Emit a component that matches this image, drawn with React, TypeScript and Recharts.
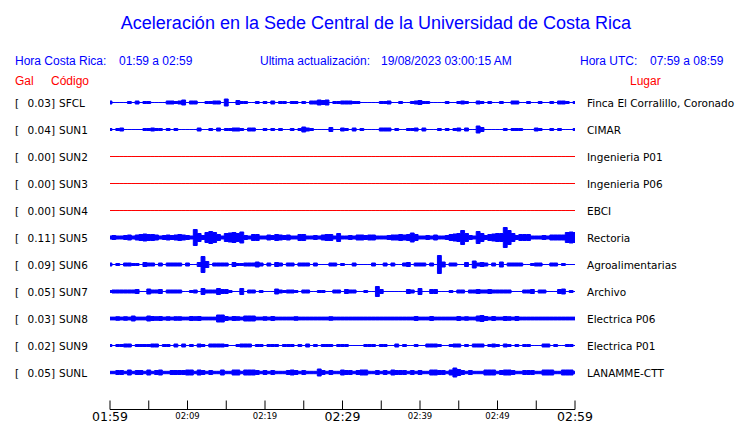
import { AreaChart, Area, XAxis, YAxis } from 'recharts'

const codes = ['SFCL', 'SUN1', 'SUN2', 'SUN3', 'SUN4', 'SUN5', 'SUN6', 'SUN7', 'SUN8', 'SUN9', 'SUNL']
const gal = [0.03, 0.04, 0.0, 0.0, 0.0, 0.11, 0.09, 0.05, 0.03, 0.02, 0.05]
const places = [
  'Finca El Corralillo, Coronado',
  'CIMAR',
  'Ingenieria P01',
  'Ingenieria P06',
  'EBCI',
  'Rectoria',
  'Agroalimentarias',
  'Archivo',
  'Electrica P06',
  'Electrica P01',
  'LANAMME-CTT',
]

// peak amplitude every 30 s from 01:59 to 02:59 (121 samples)
const sfcl = [
  1.5, 0, 0, 0, 0, 1, 0, 1.5, 0, 1,
  1, 0, 0, 0, 0, 1.5, 1.5, 1, 1.5, 2.5,
  0, 1.5, 1.5, 0, 0, 1, 1, 1.5, 1.5, 0,
  3.5, 0, 0, 2, 1, 1, 0, 0, 1, 0,
  1, 0, 1.5, 0, 1, 1, 0, 1, 1, 0,
  1, 0, 1.5, 1.5, 2.5, 2, 2.5, 0, 1, 1,
  1.5, 1.5, 1.5, 1, 1, 0, 0, 0, 0, 0,
  1, 1, 1.5, 0, 0, 1, 0, 0, 1, 1.5,
  2, 1, 1, 0, 0, 0, 0, 1, 0, 0,
  1, 1.5, 1, 0, 0, 1.5, 1, 0, 1, 0,
  0, 1, 0, 0, 1.5, 1.5, 0, 0, 1, 0,
  0, 1, 0, 0, 1, 0, 1.5, 1.5, 1, 0,
  1,
]
const sun1 = [
  1, 0, 1, 1.5, 0, 0, 0, 0, 0, 1,
  1, 1.5, 1, 1, 0, 1, 0, 1, 0, 0,
  0, 0, 0, 1.5, 0, 0, 1, 0, 1.5, 0,
  1, 1, 1.5, 1.5, 1, 0, 1.5, 1.5, 0, 0,
  1, 0, 1, 0, 1, 0, 0, 1, 0, 1,
  2.5, 1.5, 1, 0, 0, 0, 0, 2, 0, 0,
  1.5, 1, 0, 1.5, 0, 1, 0, 0, 0, 0,
  1.5, 1.5, 1.5, 0, 1, 0, 0, 1, 1, 1.5,
  0, 1.5, 0, 0, 0, 1, 0, 1, 0, 1,
  1.5, 0, 1.5, 0, 0, 3.5, 2, 0, 0, 0,
  0, 0, 1, 0, 1, 1, 1, 0, 0, 0,
  1.5, 1, 0, 0, 1, 0, 1, 0, 0, 0,
  1,
]
const sun5 = [
  1.5, 2, 1.5, 1.5, 2, 2.5, 1.5, 2.5, 3, 3.5,
  3, 3, 2.5, 1.5, 2, 2.5, 2, 2.5, 3, 2.5,
  2, 1.5, 8, 4, 2, 5, 6, 5, 3, 1.5,
  4, 4.5, 5, 4, 5.5, 2, 1.5, 3, 3, 1.5,
  1.5, 2.5, 2, 3, 2.5, 2, 2.5, 1.5, 1.5, 3,
  3, 1.5, 1.5, 2, 1.5, 2.5, 3, 3, 1.5, 4,
  1.5, 1.5, 2, 1.5, 2.5, 2.5, 2, 2.5, 2.5, 1.5,
  1.5, 1.5, 2, 2.5, 2.5, 3, 2.5, 3, 4.5, 3,
  1.5, 1.5, 2, 1.5, 2.5, 1.5, 1.5, 2, 3, 3.5,
  4, 7, 4, 2, 1.5, 6, 4, 2, 3, 3.5,
  4, 4, 10, 7, 4, 2, 3, 3, 3, 1.5,
  1.5, 1.5, 2, 1.5, 2.5, 2.5, 2.5, 2.5, 5, 5.5,
  5,
]
const sun6 = [
  1.5, 0, 1, 0, 1.5, 1.5, 1, 1, 0, 2,
  1.5, 1.5, 0, 1.5, 0, 1.5, 1.5, 1.5, 1.5, 0,
  1.5, 0, 0, 2, 8, 3, 0, 1.5, 1.5, 1.5,
  1.5, 0, 2, 1, 1, 1.5, 1.5, 1.5, 2.5, 1.5,
  0, 1.5, 0, 2, 1.5, 0, 1.5, 1.5, 0, 1.5,
  1.5, 1.5, 0, 1.5, 0, 0, 0, 1.5, 1.5, 0,
  1, 0, 0, 1.5, 0, 0, 0, 0, 1.5, 0,
  0, 1.5, 0, 1.5, 0, 0, 1.5, 2, 0, 1.5,
  1.5, 1.5, 0, 1.5, 0, 9, 2.5, 0, 1.5, 1.5,
  0, 0, 2, 0, 3.5, 1.5, 2, 1.5, 0, 1.5,
  0, 2.5, 0, 1.5, 1.5, 1.5, 1.5, 0, 0, 1,
  1.5, 1.5, 0, 0, 1.5, 1.5, 0, 1, 0, 0,
  0,
]
const sun7 = [
  1, 1.5, 1.5, 1.5, 1.5, 1.5, 1.5, 2, 0, 0,
  2.5, 1.5, 1.5, 2, 0, 1.5, 1.5, 1.5, 1.5, 0,
  0, 1, 1.5, 0, 3, 1.5, 1.5, 1.5, 3, 2,
  2, 1, 0, 0, 3, 0, 1.5, 1.5, 0, 1,
  0, 0, 0, 2.5, 1.5, 1, 1.5, 1.5, 1, 0,
  1.5, 1.5, 0, 0, 1, 1, 0, 0, 1.5, 1.5,
  0, 2, 1.5, 1.5, 0, 0, 1, 0, 0, 5,
  2, 0, 0, 0, 0, 0, 0, 2, 1.5, 0,
  3, 0, 0, 2, 2, 0, 0, 0, 1, 0,
  1.5, 1.5, 0, 1.5, 1.5, 2, 1.5, 1.5, 2, 1.5,
  1.5, 1.5, 1.5, 1.5, 0, 0, 0, 1.5, 1.5, 2,
  0, 1.5, 1.5, 0, 0, 0, 2, 2.5, 0, 1,
  0,
]
const sun8 = [
  1.4, 1.4, 1.8, 1.4, 1.8, 1.4, 2.5, 1.4, 1.4, 1.4,
  2.5, 2, 1.8, 2, 1.4, 1.8, 1.4, 1.8, 1.8, 1.4,
  1.4, 2, 1.8, 2, 1.4, 1.4, 1.4, 1.4, 3.5, 3.5,
  2, 1.4, 2, 1.8, 1.4, 2.5, 2.5, 2.5, 1.4, 1.4,
  1.8, 1.4, 2, 1.4, 1.4, 1.4, 1.4, 1.4, 1.8, 1.4,
  1.4, 1.4, 1.4, 1.4, 1.4, 1.4, 1.4, 1.8, 1.4, 1.4,
  1.4, 1.4, 1.4, 1.4, 1.4, 1.4, 1.4, 1.4, 1.4, 1.4,
  1.4, 1.4, 1.4, 1.4, 1.4, 1.4, 1.4, 1.4, 1.4, 2,
  1.4, 1.4, 1.4, 2, 1.4, 1.4, 1.4, 1.4, 1.4, 1.4,
  2, 1.4, 1.8, 1.4, 1.4, 2.5, 3, 2, 1.4, 2,
  1.4, 1.4, 2, 1.8, 1.4, 2, 1.4, 1.4, 1.4, 1.4,
  1.4, 1.4, 1.4, 1.4, 1.4, 1.4, 1.4, 1.4, 1.4, 1.4,
  1.4,
]
const sun9 = [
  1, 0, 1, 1, 1.5, 1.5, 0, 1, 1, 1,
  1, 1.5, 1.5, 0, 1, 1, 0, 1.5, 0, 1.5,
  0, 1, 0, 1.5, 1, 0, 1.5, 1.5, 1.5, 1.5,
  1, 0, 0, 1, 1.5, 1.5, 1.5, 0, 1, 1,
  0, 1, 1, 1, 0, 1, 1, 1, 0, 1,
  0, 1.5, 0, 1, 0, 1, 1, 1, 0, 1,
  1, 1, 0, 0, 0, 0, 1, 1, 1, 0,
  1, 1, 0, 0, 1.5, 0, 1, 0, 0, 1,
  0, 0, 1.5, 1.5, 1.5, 1, 0, 0, 1, 1.5,
  1.5, 0, 1, 0, 1.5, 1.5, 1.5, 0, 1, 1.5,
  1, 0, 1.5, 1, 0, 1, 0, 1, 1, 0,
  0, 0, 1.5, 1.5, 0, 1, 0, 0, 1, 1,
  0,
]
const sunl = [
  1.2, 1.2, 2, 2, 1.2, 2.5, 1.2, 2, 2, 1.2,
  2.5, 1.2, 2, 2.5, 1.2, 1.2, 2, 2, 2, 2,
  2.5, 2.5, 1.2, 2.5, 2, 1.2, 2, 1.2, 1.2, 2.5,
  1.2, 1.2, 2.5, 2.5, 1.2, 2.5, 2.5, 2.5, 2, 1.2,
  2, 1.2, 2, 1.2, 1.2, 1.2, 2, 2.5, 2, 1.2,
  2, 1.2, 1.2, 1.2, 3.5, 2, 1.2, 2, 1.2, 1.2,
  2.5, 2, 2, 1.2, 2, 2.5, 2.5, 1.2, 1.2, 2,
  1.2, 2, 1.2, 2.5, 2, 2, 2, 1.2, 2, 1.2,
  2, 1.2, 1.2, 2.5, 2.5, 2, 2, 1.2, 2.5, 4.5,
  3, 2, 1.2, 2, 1.2, 1.2, 1.2, 2.5, 2.5, 2.5,
  1.2, 2, 2.5, 2.5, 2, 1.2, 1.2, 2, 2, 2,
  1.2, 1.2, 2.5, 2.5, 2.5, 1.2, 1.2, 2.5, 2.5, 2.5,
  1.2,
]

const traces: Record<string, number[]> = {
  SFCL: sfcl,
  SUN1: sun1,
  SUN5: sun5,
  SUN6: sun6,
  SUN7: sun7,
  SUN8: sun8,
  SUN9: sun9,
  SUNL: sunl,
}

const tickMinutes = [0, 5, 10, 15, 20, 25, 30, 35, 40, 45, 50, 55, 60]
const tickLabels = ['01:59', '', '02:09', '', '02:19', '', '02:29', '', '02:39', '', '02:49', '', '02:59']
const bigLabels = ['01:59', '02:29', '02:59']

const TOP_ROW = 11.37 // y value of the first trace
const GAIN = 1 / 27

const data = sfcl.map((_, k) => {
  const row: Record<string, number | number[]> = { t: k / 2 }
  codes.forEach((code, i) => {
    const base = TOP_ROW - i
    const a = (traces[code]?.[k] ?? 0) * GAIN
    row[code] = [base - a, base + a]
  })
  return row
})

const BLUE = '#0000ff'
const RED = '#ff0000'
const SANS = '"Liberation Sans", Arial, sans-serif'
const DEJAVU = '"DejaVu Sans", sans-serif'

function TimeTick(props: any) {
  const { x, y, index } = props
  const label = tickLabels[index] ?? ''
  const big = bigLabels.includes(label)
  return (
    <g>
      <line x1={x} x2={x} y1={y - 9} y2={y} stroke="#000" strokeWidth={1} />
      {label && (
        <text
          x={x}
          y={big ? y + 11.5 : y + 9}
          textAnchor="middle"
          fontFamily={DEJAVU}
          fontSize={big ? 12.5 : 8.5}
          fill="#000"
        >
          {label}
        </text>
      )}
    </g>
  )
}

export default function App() {
  return (
    <div style={{ position: 'absolute', left: 0, top: 0, width: 740, height: 423, background: '#fff' }}>
      <AreaChart
        width={740}
        height={423}
        data={data}
        margin={{ top: 85.5, right: 165, bottom: 0, left: 110 }}
      >
        <XAxis
          dataKey="t"
          type="number"
          domain={[0, 60]}
          ticks={tickMinutes}
          interval={0}
          height={13.5}
          tickSize={0}
          tickMargin={0}
          tickLine={false}
          axisLine={{ stroke: '#000' }}
          tick={<TimeTick />}
        />
        <YAxis hide type="number" domain={[0, 12]} ticks={[0, 12]} allowDataOverflow />
        {codes.map((code, i) => {
          const color = gal[i] === 0 ? RED : BLUE
          return (
            <Area
              key={code}
              dataKey={code}
              type="step"
              stroke={color}
              strokeWidth={1}
              fill={color}
              fillOpacity={1}
              dot={false}
              activeDot={false}
              isAnimationActive={false}
            />
          )
        })}
      </AreaChart>
      <svg
        width={740}
        height={423}
        style={{ position: 'absolute', left: 0, top: 0, pointerEvents: 'none' }}
      >
        <text x={376} y={29} textAnchor="middle" fontFamily={SANS} fontSize={18} fill={BLUE}>
          Aceleración en la Sede Central de la Universidad de Costa Rica
        </text>
        <g fontFamily={SANS} fontSize={12} fill={BLUE}>
          <text x={15} y={64.5}>Hora Costa Rica:</text>
          <text x={119} y={64.5}>01:59 a 02:59</text>
          <text x={260} y={64.5}>Ultima actualización:</text>
          <text x={381} y={64.5}>19/08/2023 03:00:15 AM</text>
          <text x={580} y={64.5}>Hora UTC:</text>
          <text x={650} y={64.5}>07:59 a 08:59</text>
        </g>
        <g fontFamily={SANS} fontSize={12} fill={RED}>
          <text x={15} y={84.5}>Gal</text>
          <text x={51} y={84.5}>Código</text>
          <text x={630} y={84.5}>Lugar</text>
        </g>
        <g fontFamily={DEJAVU} fontSize={10.5} fill="#000">
          {codes.map((code, i) => {
            const y = 102.5 + 27 * i + 4
            return (
              <g key={code}>
                <text x={15} y={y}>[</text>
                <text x={55} y={y} textAnchor="end">{gal[i].toFixed(2)}]</text>
                <text x={59} y={y}>{code}</text>
                <text x={587} y={y}>{places[i]}</text>
              </g>
            )
          })}
        </g>
      </svg>
    </div>
  )
}
